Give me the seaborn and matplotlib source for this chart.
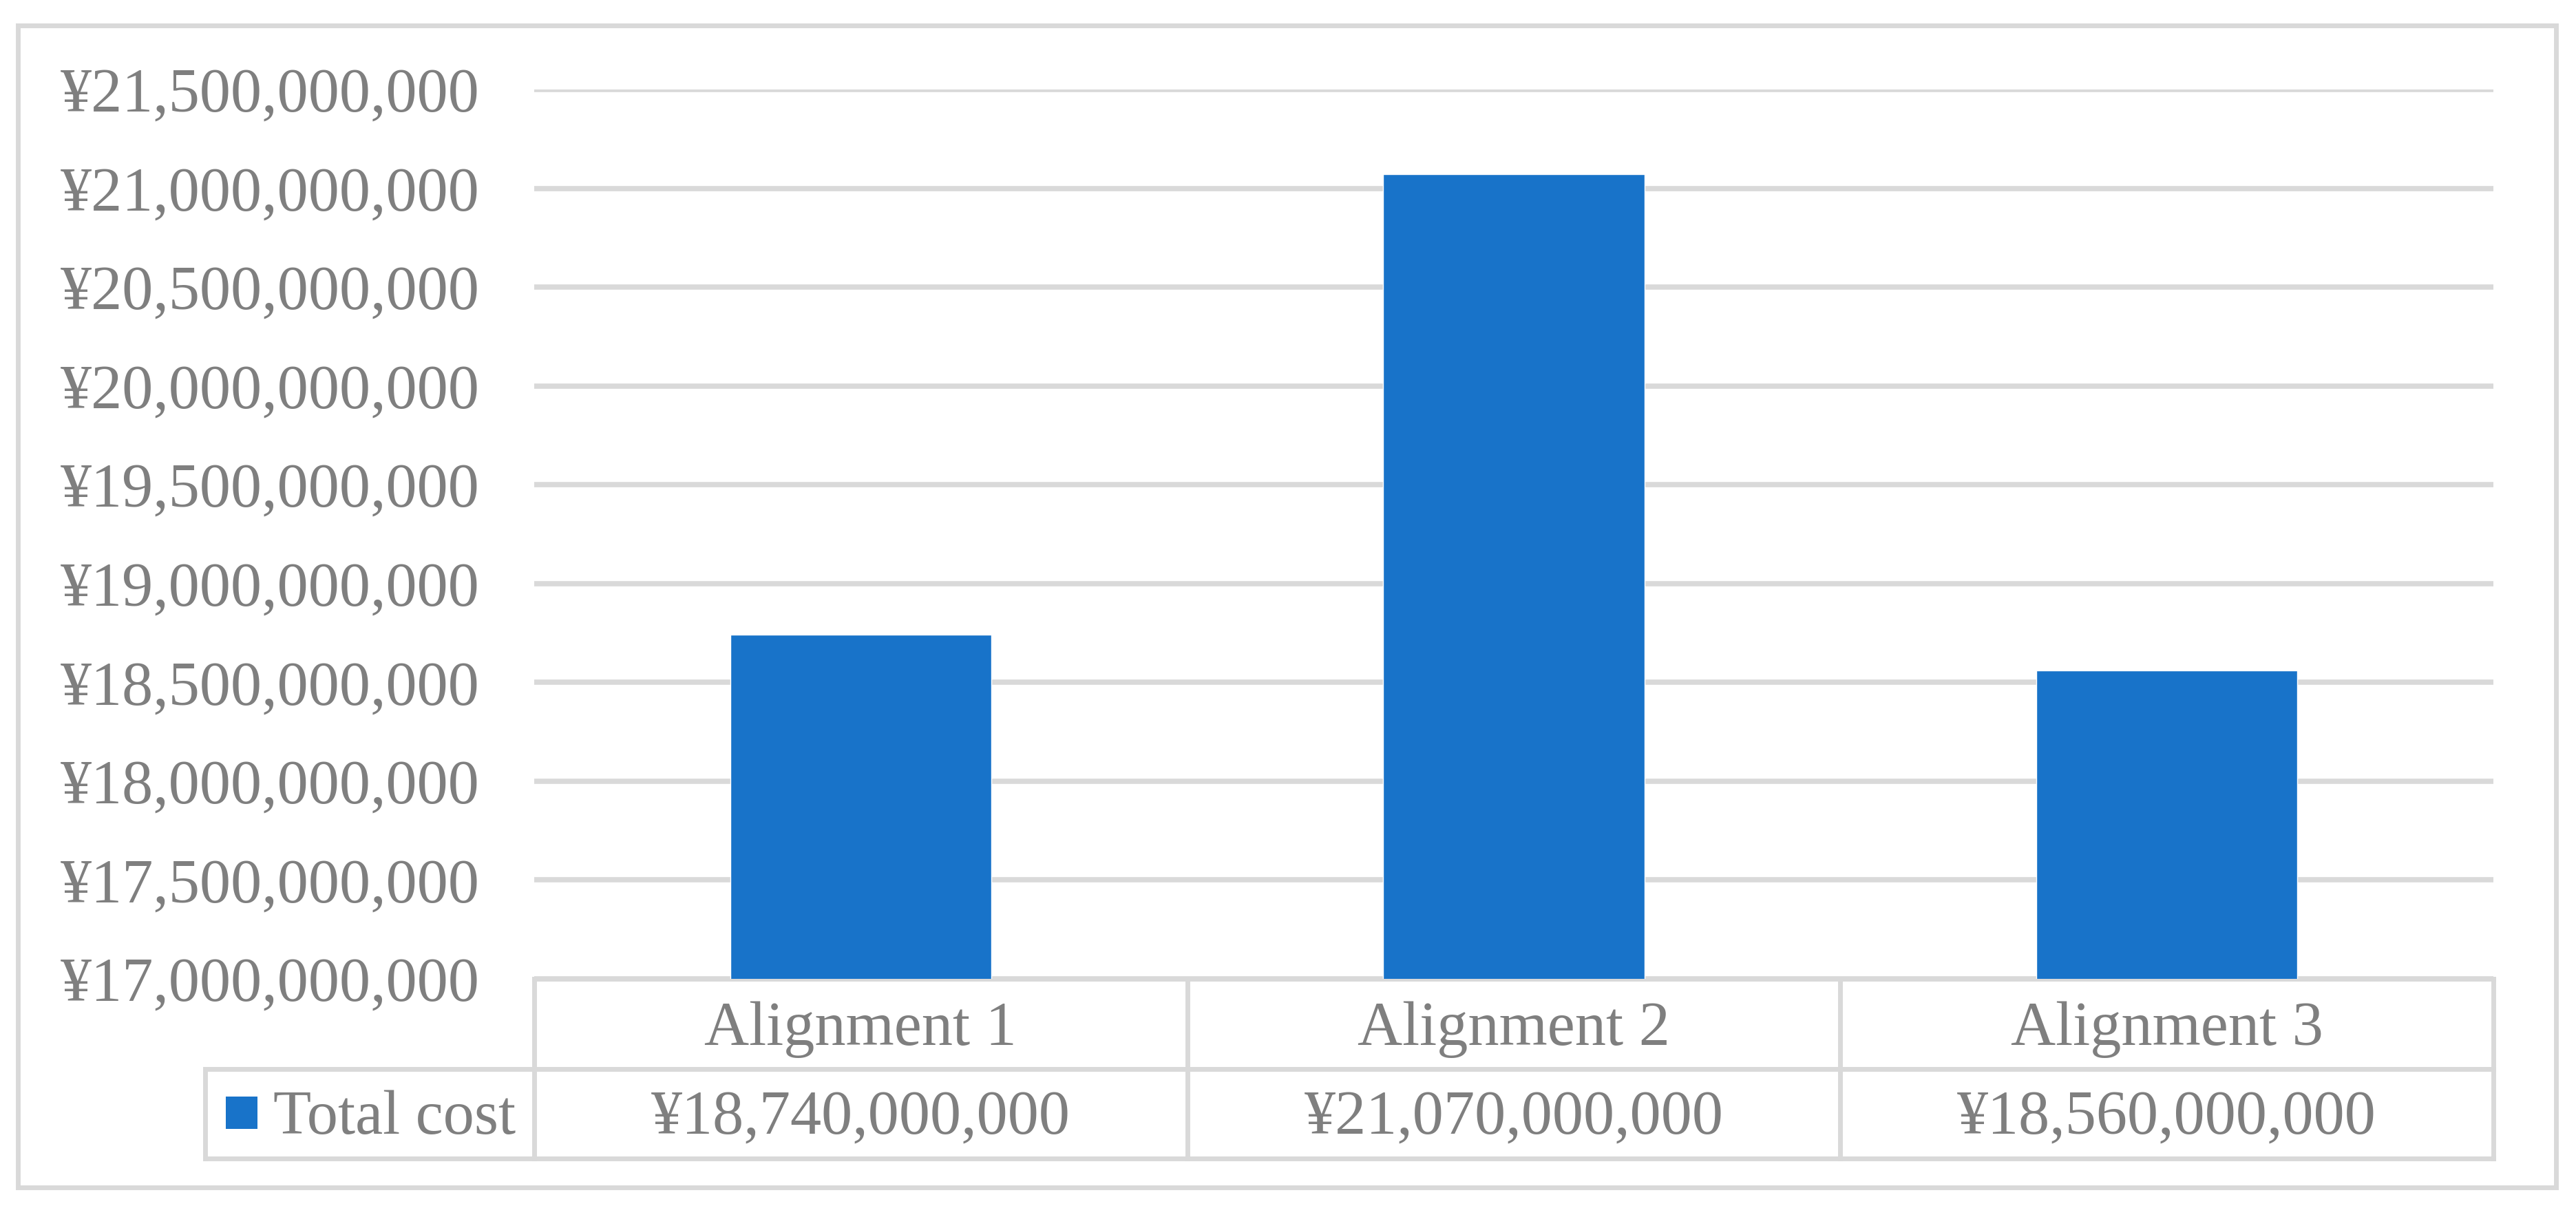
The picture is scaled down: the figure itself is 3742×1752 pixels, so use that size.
import numpy as np
import seaborn as sns
import matplotlib.pyplot as plt
from matplotlib.patches import Rectangle
from matplotlib.ticker import FuncFormatter

# chart data
categories = ["Alignment 1", "Alignment 2", "Alignment 3"]
total_cost = [18740000000, 21070000000, 18560000000]
series_name = "Total cost"
y_min, y_max, y_step = 17000000000, 21500000000, 500000000

BAR_COLOR = "#1873C9"
TEXT_COLOR = "#7F7F7F"
LINE_COLOR = "#D9D9D9"

sns.set_style("white")
plt.rcParams['font.family'] = ['Liberation Serif', 'DejaVu Serif']

W, H = 3742, 1752
fig = plt.figure(figsize=(W / 100, H / 100), dpi=100)

# plot area placed in pixel terms
left_px, right_px, top_px, bottom_px = 776, 3622, 130, 1422
ax = fig.add_axes([left_px / W, 1 - bottom_px / H,
                   (right_px - left_px) / W, (bottom_px - top_px) / H])

sns.barplot(x=categories, y=total_cost, color=BAR_COLOR, width=0.4,
            saturation=1, ax=ax, zorder=3)

ax.set_xlim(-0.5, len(categories) - 0.5)
ax.set_ylim(y_min, y_max)
ax.set_yticks(np.arange(y_min, y_max + 1, y_step))
ax.yaxis.set_major_formatter(FuncFormatter(lambda v, _: f"¥{v:,.0f}"))
ax.tick_params(axis='y', length=0, pad=57, labelsize=65, labelcolor=TEXT_COLOR)
ax.tick_params(axis='x', length=0, labelbottom=False)
ax.set_xlabel("")
ax.set_ylabel("")
ax.yaxis.grid(True, color=LINE_COLOR, linewidth=5.5, zorder=0)
ax.set_axisbelow(True)
for s in ax.spines.values():
    s.set_visible(False)

# data table under the axis (x in data units, y in axes fraction)
tr = ax.get_xaxis_transform()
row1_bot, row2_bot = -0.1014, -0.2020
leg_left = -1.004
n = len(categories)
line_kw = dict(color=LINE_COLOR, linewidth=5, transform=tr, clip_on=False,
               solid_capstyle='projecting')
ax.plot([-0.5, n - 0.5], [0, 0], **line_kw)
ax.plot([leg_left, n - 0.5], [row1_bot, row1_bot], **line_kw)
ax.plot([leg_left, n - 0.5], [row2_bot, row2_bot], **line_kw)
ax.plot([leg_left, leg_left], [row1_bot, row2_bot], **line_kw)
for b in np.arange(n + 1) - 0.5:
    ax.plot([b, b], [0, row2_bot], **line_kw)

for i, (cat, val) in enumerate(zip(categories, total_cost)):
    ax.text(i, -0.0743, cat, transform=tr, ha='center', va='baseline',
            fontsize=65, color=TEXT_COLOR)
    ax.text(i, -0.174, f"¥{val:,.0f}", transform=tr, ha='center', va='baseline',
            fontsize=65, color=TEXT_COLOR)

# legend key inside the table
ax.add_patch(Rectangle((-0.972, -0.1687), 0.0485, 0.0364, transform=tr,
                       facecolor=BAR_COLOR, edgecolor='none', clip_on=False))
ax.text(-0.900, -0.174, series_name, transform=tr, ha='left', va='baseline',
        fontsize=65, color=TEXT_COLOR)

# outer chart border
fig.add_artist(Rectangle((26 / W, 1 - 1725 / H), (3713 - 26) / W, (1725 - 37) / H,
                         transform=fig.transFigure, fill=False,
                         edgecolor=LINE_COLOR, linewidth=5))

fig.savefig("out.png", dpi=100, facecolor="white")
